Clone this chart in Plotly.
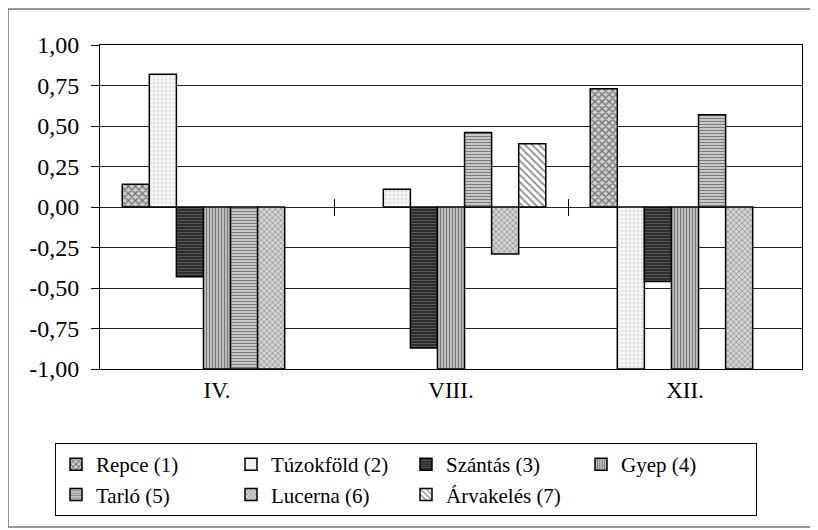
import plotly.graph_objects as go

# months on the x axis
months = ["IV.", "VIII.", "XII."]

# one series per habitat type (None = no bar)
repce = [0.14, None, 0.73]
tuzokfold = [0.82, 0.11, -1.00]
szantas = [-0.43, -0.87, -0.46]
gyep = [-1.00, -1.00, -1.00]
tarlo = [-1.00, 0.46, 0.57]
lucerna = [-1.00, -0.29, -1.00]
arvakeles = [None, 0.39, None]

series_names = [
    "Repce (1)", "Túzokföld (2)", "Szántás (3)", "Gyep (4)",
    "Tarló (5)", "Lucerna (6)", "Árvakelés (7)",
]
series_values = [repce, tuzokfold, szantas, gyep, tarlo, lucerna, arvakeles]

y_ticks = [1.0, 0.75, 0.5, 0.25, 0.0, -0.25, -0.5, -0.75, -1.0]
y_range = [-1.0, 1.0]

# pattern fills imitating the old Excel hatchings
styles = [
    dict(shape="x", fgcolor="#1a1a1a", bgcolor="#cfcfcf", size=5, solidity=0.45),
    dict(shape=".", fgcolor="#c8c8c8", bgcolor="#f6f6f6", size=4, solidity=0.3),
    dict(shape="-", fgcolor="#888888", bgcolor="#2e2e2e", size=3, solidity=0.3),
    dict(shape="|", fgcolor="#2a2a2a", bgcolor="#c4c4c4", size=3, solidity=0.4),
    dict(shape="-", fgcolor="#2a2a2a", bgcolor="#cfcfcf", size=3, solidity=0.4),
    dict(shape="x", fgcolor="#3a3a3a", bgcolor="#d2d2d2", size=4, solidity=0.3),
    dict(shape="\\", fgcolor="#1e1e1e", bgcolor="#ffffff", size=5, solidity=0.35),
]

FONT = "Liberation Serif"
# the page body has an 8px default margin, so the figure is shrunk to fit the window
OFF = 8
W, H = 818 - OFF, 530 - OFF
M = dict(l=100 - OFF, r=16, t=45 - OFF, b=161)
plot_w = W - M["l"] - M["r"]
plot_h = H - M["t"] - M["b"]


def px_x(p):
    # window pixel -> paper x
    return (p - OFF - M["l"]) / plot_w


def px_y(p):
    # window pixel -> paper y
    return (H - M["b"] - (p - OFF)) / plot_h


fig = go.Figure()
for name, vals, st in zip(series_names, series_values, styles):
    fig.add_trace(
        go.Bar(
            x=months,
            y=vals,
            name=name,
            marker=dict(
                color=st["bgcolor"],
                pattern=st,
                line=dict(color="black", width=1.5),
            ),
        )
    )

# empty helpers so the two overlay axes (cross ticks on the zero line) get drawn
for ax in ["x2", "x3"]:
    fig.add_trace(go.Scatter(x=[None], y=[None], xaxis=ax, showlegend=False,
                             hoverinfo="skip", mode="markers"))

zero_pos = (0 - y_range[0]) / (y_range[1] - y_range[0])
cross_axis = dict(
    overlaying="x", anchor="free", position=zero_pos, range=[-0.5, 2.5],
    tickvals=[0.5, 1.5], showticklabels=False, showgrid=False,
    showline=False, zeroline=False, ticklen=8, tickwidth=1, tickcolor="black",
)

fig.update_layout(
    width=W,
    height=H,
    margin=M,
    paper_bgcolor="white",
    plot_bgcolor="white",
    barmode="group",
    bargap=0.19,
    bargroupgap=0,
    font=dict(family=FONT, size=21, color="black"),
    xaxis=dict(
        showline=True, mirror=True, linecolor="black", linewidth=1,
        ticks="", tickfont=dict(size=23), showgrid=False,
    ),
    xaxis2=dict(cross_axis, ticks="outside"),
    xaxis3=dict(cross_axis, ticks="inside"),
    yaxis=dict(
        range=y_range,
        tickvals=y_ticks,
        ticktext=[f"{v:.2f}".replace(".", ",") for v in y_ticks],
        showline=True, mirror=True, linecolor="black", linewidth=1,
        showgrid=True, gridcolor="#222222", gridwidth=1,
        zeroline=True, zerolinecolor="#222222", zerolinewidth=1,
        ticks="outside", ticklen=8, tickcolor="black",
        tickfont=dict(size=24), ticklabelstandoff=7,
    ),
    legend=dict(
        orientation="h",
        x=px_x(55),
        y=px_y(443),
        xanchor="left",
        yanchor="top",
        entrywidth=130,
        entrywidthmode="pixels",
        bordercolor="black",
        borderwidth=1,
        font=dict(size=21, family=FONT),
        traceorder="normal",
        tracegroupgap=0,
    ),
    showlegend=True,
)

# outer chart frame
fig.add_shape(
    type="rect", xref="paper", yref="paper",
    x0=px_x(OFF), x1=px_x(817), y0=px_y(527), y1=px_y(OFF + 1),
    line=dict(color="#333333", width=1), layer="below",
)

fig.write_html("out.html")
